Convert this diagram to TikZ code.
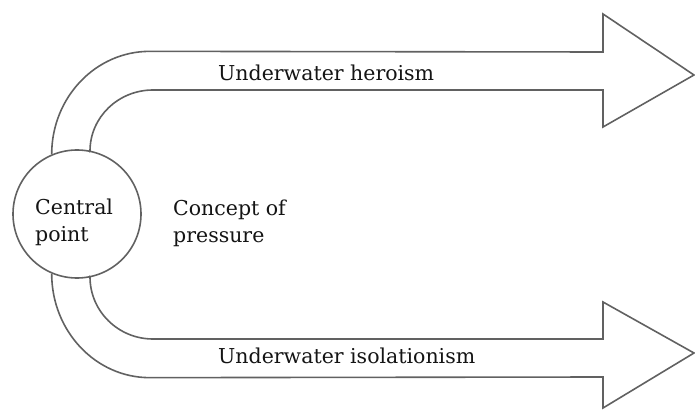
\documentclass[tikz,border=0pt]{standalone}
\usepackage{fontspec}
\setmainfont{DejaVu Serif}
\usepackage{xcolor}
\definecolor{linegray}{rgb}{0.38,0.38,0.38}
\definecolor{ink}{rgb}{0.08,0.08,0.08}
\usetikzlibrary{positioning, calc}

\begin{document}
\begin{tikzpicture}[
  x=1pt, y=1pt,
  hub/.style={circle, draw=linegray, line width=1.6pt, minimum size=128pt, inner sep=0pt},
  band/.style={draw=linegray, line width=1.6pt, line join=miter},
  caption/.style={font=\fontsize{20.5}{27}\selectfont, text=ink, inner sep=0pt, align=left},
]
\clip (0,0) rectangle (695,410);

% Centre circle
\node[hub] (hub) at (77,196) {};

% Upper band arrow
\draw[band] (hub.113) arc[start angle=180, end angle=90, x radius=98, y radius=103]
  -- (603,358) -- (603,396) -- (694,335) -- (603,283) -- (603,320) -- (153,320)
  arc[start angle=90, end angle=180, x radius=63, y radius=61] -- (hub.78);

% Lower band arrow
\draw[band] (hub.-113) arc[start angle=180, end angle=270, x radius=98, y radius=104]
  -- (603,33) -- (603,2) -- (694,57) -- (603,108) -- (603,71) -- (153,71)
  arc[start angle=270, end angle=180, x radius=63, y radius=62] -- (hub.-78);

% Texts
\node[caption, anchor=base west] (heroism) at (218,329) {Underwater heroism};
\node[caption, anchor=base west] (isolation) at (218,47) {Underwater isolationism};
\node[caption, anchor=west] (hubtext) at (35,188) {Central\\point};
\node[caption, anchor=west] (pressure) at (173,187) {Concept of\\pressure};
\end{tikzpicture}
\end{document}
